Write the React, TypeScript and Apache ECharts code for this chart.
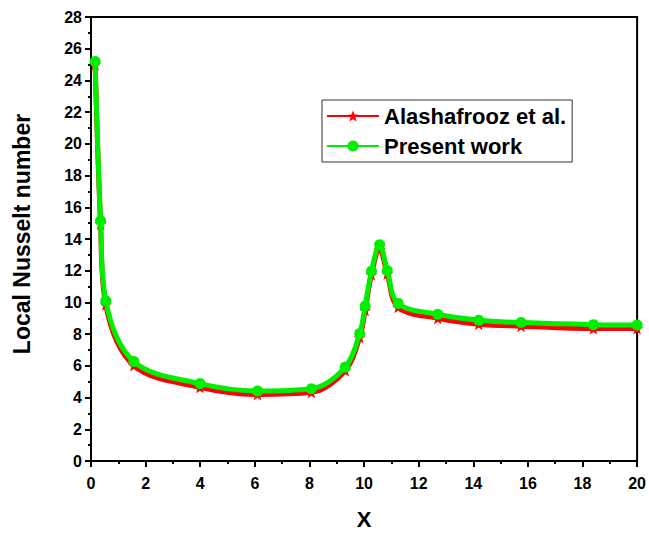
import React, { useEffect, useRef } from "react";
import * as echarts from "echarts";

// Local Nusselt number along X
const xValues = [0.15, 0.35, 0.54, 1.57, 3.99, 6.1, 8.07, 9.31, 9.84, 10.04, 10.27, 10.57, 10.85, 11.25, 12.7, 14.2, 15.75, 18.4, 20.0];
const alashafroozNu = [25.0, 14.95, 9.85, 6.02, 4.65, 4.2, 4.33, 5.7, 7.8, 9.5, 11.75, 13.35, 11.8, 9.7, 9.0, 8.63, 8.5, 8.35, 8.35];
const presentNu = [25.2, 15.15, 10.1, 6.27, 4.88, 4.42, 4.56, 5.92, 8.04, 9.77, 11.96, 13.63, 12.02, 9.94, 9.25, 8.88, 8.73, 8.6, 8.58];

const yMin = 0;
const yMax = 28;
const yStep = 2;
const xMin = 0;
const xMax = 20;
const xStep = 2;

const FONT = "Liberation Sans";
const STAR = "path://M12,1 L14.9,8.3 L22.5,8.5 L16.5,13.2 L18.6,20.6 L12,16.3 L5.4,20.6 L7.5,13.2 L1.5,8.5 L9.1,8.3 Z";

const pair = (xs: number[], ys: number[]) => xs.map((x, i) => [x, ys[i]]);

export default function App() {
  const ref = useRef<HTMLDivElement>(null);

  useEffect(() => {
    if (!ref.current) return;
    document.body.style.margin = "0";
    const chart = echarts.init(ref.current, undefined, { renderer: "svg" });
    chart.setOption({
      animation: false,
      grid: {
        left: 91,
        right: 11,
        top: 17,
        bottom: 72,
        show: true,
        borderColor: "#000",
        borderWidth: 2,
        backgroundColor: "transparent",
      },
      legend: {
        orient: "vertical",
        left: 322,
        top: 100,
        borderColor: "#333",
        borderWidth: 1,
        padding: [5, 6, 5, 4],
        itemGap: 8,
        itemWidth: 52,
        itemHeight: 14,
        textStyle: { fontFamily: FONT, fontWeight: "bold", fontSize: 22, color: "#000", lineHeight: 22 },
        data: ["Alashafrooz et al.", "Present work"],
      },
      xAxis: {
        type: "value",
        min: xMin,
        max: xMax,
        interval: xStep,
        name: "X",
        nameLocation: "middle",
        nameGap: 47,
        nameTextStyle: { fontFamily: FONT, fontWeight: "bold", fontSize: 22, color: "#000" },
        axisLine: { show: true, lineStyle: { color: "#000", width: 2 } },
        axisTick: { show: true, length: 6, lineStyle: { color: "#000", width: 2 } },
        minorTick: { show: true, splitNumber: 2, length: 3, lineStyle: { color: "#000", width: 2 } },
        axisLabel: { fontFamily: FONT, fontWeight: "bold", fontSize: 16, color: "#000", margin: 14 },
        splitLine: { show: false },
      },
      yAxis: {
        type: "value",
        min: yMin,
        max: yMax,
        interval: yStep,
        name: "Local Nusselt number",
        nameLocation: "middle",
        nameGap: 58,
        nameTextStyle: { fontFamily: FONT, fontWeight: "bold", fontSize: 23, color: "#000", padding: [0, 0, 0, 10] },
        axisLine: { show: true, lineStyle: { color: "#000", width: 2 } },
        axisTick: { show: true, length: 6, lineStyle: { color: "#000", width: 2 } },
        minorTick: { show: true, splitNumber: 2, length: 3, lineStyle: { color: "#000", width: 2 } },
        axisLabel: { fontFamily: FONT, fontWeight: "bold", fontSize: 16, color: "#000", margin: 9 },
        splitLine: { show: false },
      },
      series: [
        {
          name: "Alashafrooz et al.",
          type: "line",
          smooth: 0.35,
          data: pair(xValues, alashafroozNu),
          symbol: STAR,
          symbolSize: 12,
          lineStyle: { color: "#ff0000", width: 5 },
          itemStyle: { color: "#ff0000" },
          z: 2,
        },
        {
          name: "Present work",
          type: "line",
          smooth: 0.35,
          data: pair(xValues, presentNu),
          symbol: "circle",
          symbolSize: 11,
          lineStyle: { color: "#00ee00", width: 5 },
          itemStyle: { color: "#00ee00" },
          z: 3,
        },
      ],
    });
    return () => chart.dispose();
  }, []);

  return <div ref={ref} style={{ width: 649, height: 535 }} />;
}
